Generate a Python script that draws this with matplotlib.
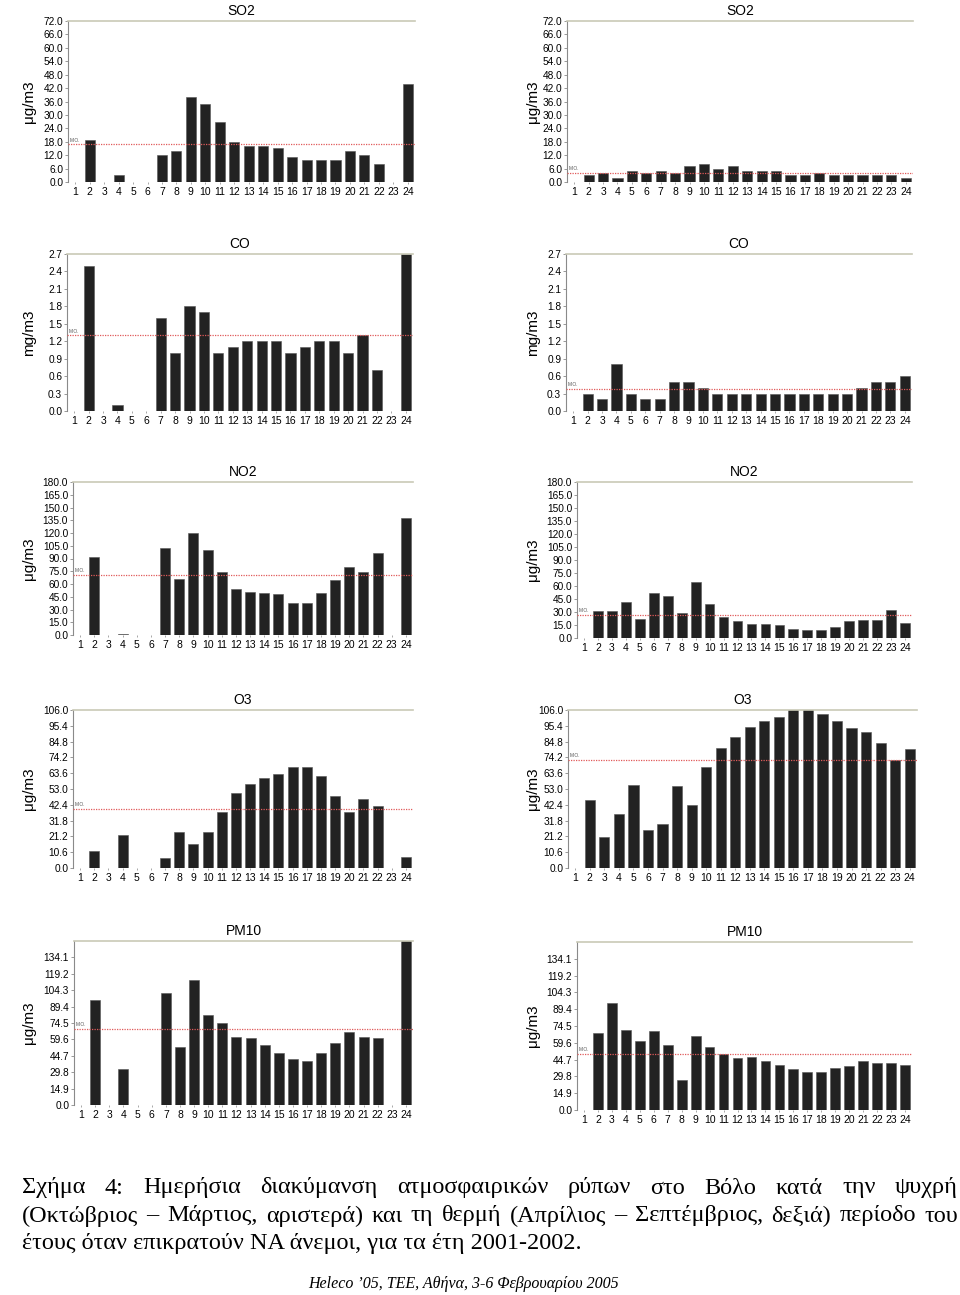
import numpy as np
import matplotlib
matplotlib.use("Agg")
import matplotlib.pyplot as plt

nan = np.nan
hours = list(range(1, 25))

# ---- data (hourly means, cold period = left, warm period = right) ----
so2_cold = [nan, 19, nan, 3, nan, nan, 12, 14, 38, 35, 27, 18, 16, 16, 15, 11, 10, 10, 10, 14, 12, 8, nan, 44]
so2_warm = [nan, 3, 4, 2, 5, 4, 5, 4, 7, 8, 6, 7, 5, 5, 5, 3, 3, 4, 3, 3, 3, 3, 3, 2]
co_cold = [nan, 2.5, nan, 0.1, nan, nan, 1.6, 1.0, 1.8, 1.7, 1.0, 1.1, 1.2, 1.2, 1.2, 1.0, 1.1, 1.2, 1.2, 1.0, 1.3, 0.7, nan, 2.7]
co_warm = [nan, 0.3, 0.2, 0.8, 0.3, 0.2, 0.2, 0.5, 0.5, 0.4, 0.3, 0.3, 0.3, 0.3, 0.3, 0.3, 0.3, 0.3, 0.3, 0.3, 0.4, 0.5, 0.5, 0.6]
no2_cold = [nan, 91.5, nan, 1.0, nan, nan, 102.5, 65.7, 120.5, 100.2, 73.6, 53.6, 50.5, 50.0, 47.7, 37.6, 37.6, 48.9, 65.0, 80.2, 74.7, 97.0, nan, 137.7]
no2_warm = [nan, 31.3, 31.7, 41.3, 21.6, 51.8, 47.9, 29.4, 64.5, 39.4, 24.7, 19.7, 15.8, 16.6, 14.7, 10.4, 9.3, 9.7, 12.7, 19.3, 21.2, 21.2, 32.4, 17.0]
o3_cold = [nan, 11.4, nan, 22.2, nan, nan, 6.7, 24.2, 16.4, 24.2, 37.4, 50.4, 56.3, 60.5, 63.2, 67.5, 67.5, 61.4, 48.4, 37.4, 46.4, 41.5, nan, 7.4]
o3_warm = [nan, 45.3, 20.8, 36.3, 55.6, 25.5, 29.4, 54.7, 42.6, 67.5, 80.7, 88.1, 94.8, 98.4, 101.5, 106.5, 106.5, 103.3, 98.4, 93.7, 91.4, 83.8, 72.6, 79.6]
pm10_cold = [nan, 95.0, nan, 33.1, nan, nan, 101.9, 52.5, 113.2, 81.9, 74.6, 62.2, 61.3, 54.6, 47.6, 42.2, 40.4, 47.6, 56.1, 66.7, 62.2, 60.7, nan, 150.0]
pm10_warm = [nan, 68.7, 94.6, 70.7, 61.6, 69.8, 57.8, 26.8, 66.0, 56.0, 49.8, 45.7, 47.2, 43.9, 39.8, 36.3, 33.3, 33.3, 37.4, 38.9, 43.9, 41.9, 41.9, 39.8]

# mean values (M.O.)
mo_cold = {"SO2": 16.8, "CO": 1.3, "NO2": 70.4, "O3": 39.4, "PM10": 68.9}
mo_warm = {"SO2": 4.0, "CO": 0.38, "NO2": 26.7, "O3": 72.6, "PM10": 49.5}

pollutants = ["SO2", "CO", "NO2", "O3", "PM10"]
units = ["μg/m3", "mg/m3", "μg/m3", "μg/m3", "μg/m3"]
tick_step = [6.0, 0.3, 15.0, 10.6, 14.9]
tick_count = [13, 10, 13, 11, 10]
y_top = [72.0, 2.7, 180.0, 106.0, 149.0]

cold = [so2_cold, co_cold, no2_cold, o3_cold, pm10_cold]
warm = [so2_warm, co_warm, no2_warm, o3_warm, pm10_warm]

caption_lines = [
    "Σχήμα 4: Ημερήσια διακύμανση ατμοσφαιρικών ρύπων στο Βόλο κατά την ψυχρή",
    "(Οκτώβριος – Μάρτιος, αριστερά) και τη θερμή (Απρίλιος – Σεπτέμβριος, δεξιά) περίοδο του",
    "έτους όταν επικρατούν ΝΑ άνεμοι, για τα έτη 2001-2002.",
]
footer = "Heleco ’05, ΤΕΕ, Αθήνα, 3-6 Φεβρουαρίου 2005"

# ---- layout (pixel boxes: left, right, top, bottom) ----
W, H = 960, 1295
boxes_left = [(68, 415, 21, 182), (67, 413, 254, 411), (73, 413, 482, 635), (73, 413, 710, 868), (74, 413, 941, 1105)]
boxes_right = [(567, 913, 21, 182), (566, 912, 254, 411), (577, 912, 482, 638), (568, 917, 710, 868), (577, 912, 942, 1110)]
ylabel_x = [36, 540]

plt.rcParams['font.family'] = ['Liberation Sans', 'DejaVu Sans']
fig = plt.figure(figsize=(W / 100, H / 100), dpi=100)
fig.patch.set_facecolor('white')


def draw(box, data, mo, name, unit, step, n, ytop, ylx):
    l, r, t, b = box
    ax = fig.add_axes([l / W, 1 - b / H, (r - l) / W, (b - t) / H])
    vals = np.array(data, dtype=float)
    ax.bar(hours, np.nan_to_num(vals), width=0.7, color='#222222', edgecolor='#555555', linewidth=0.4, zorder=2)
    ax.set_xlim(0.5, 24.5)
    ax.set_ylim(0, ytop)
    ticks = [round(step * i, 2) for i in range(n)]
    ax.set_yticks(ticks)
    ax.set_yticklabels([f"{v:.1f}" for v in ticks], fontsize=7.3)
    ax.set_xticks(hours)
    ax.set_xticklabels([str(h) for h in hours], fontsize=7.5)
    ax.tick_params(axis='x', length=1.5, width=0.6, color='#999999', pad=2)
    ax.tick_params(axis='y', length=2, width=0.6, color='#888888', pad=1.5)
    for s in ['right', 'bottom']:
        ax.spines[s].set_visible(False)
    ax.spines['left'].set_color('#8a8a8a')
    ax.spines['left'].set_linewidth(0.8)
    ax.spines['top'].set_color('#c9c9b6')
    ax.spines['top'].set_linewidth(1.2)
    ax.axhline(mo, color='#e05a5a', linestyle=(0, (1, 1)), linewidth=0.9, zorder=3)
    ax.text(0.6, mo + ytop * 0.012, "M.O.", fontsize=3.5, color='#555555', va='bottom', ha='left')
    ax.set_title(name, fontsize=10, pad=4)
    ax.set_ylabel(unit, fontsize=11)
    ax.yaxis.set_label_coords((ylx - l) / (r - l), 0.5)
    return ax


for i in range(5):
    draw(boxes_left[i], cold[i], mo_cold[pollutants[i]], pollutants[i], units[i],
         tick_step[i], tick_count[i], y_top[i], ylabel_x[0])
    draw(boxes_right[i], warm[i], mo_warm[pollutants[i]], pollutants[i], units[i],
         tick_step[i], tick_count[i], y_top[i], ylabel_x[1])

# ---- caption, fully justified ----
renderer = fig.canvas.get_renderer()
cap_kw = dict(fontsize=17.5, family=['Liberation Serif', 'DejaVu Serif'], va='center', ha='left')
x0, x1 = 22, 958
line_y = [1188, 1216, 1243]
for li, line in enumerate(caption_lines):
    words = line.split(' ')
    y = 1 - line_y[li] / H
    if li < 2:
        texts = [fig.text(0, y, w, **cap_kw) for w in words]
        widths = [t.get_window_extent(renderer).width for t in texts]
        gap = (x1 - x0 - sum(widths)) / (len(words) - 1)
        x = x0
        for t, w in zip(texts, widths):
            t.set_x(x / W)
            x += w + gap
    else:
        fig.text(x0 / W, y, line, **cap_kw)

fig.text(463 / W, 1 - 1284 / H, footer, fontsize=11.5, style='italic',
         family=['Liberation Serif', 'DejaVu Serif'], ha='center', va='center')

fig.savefig("out.png", dpi=100, facecolor='white')
